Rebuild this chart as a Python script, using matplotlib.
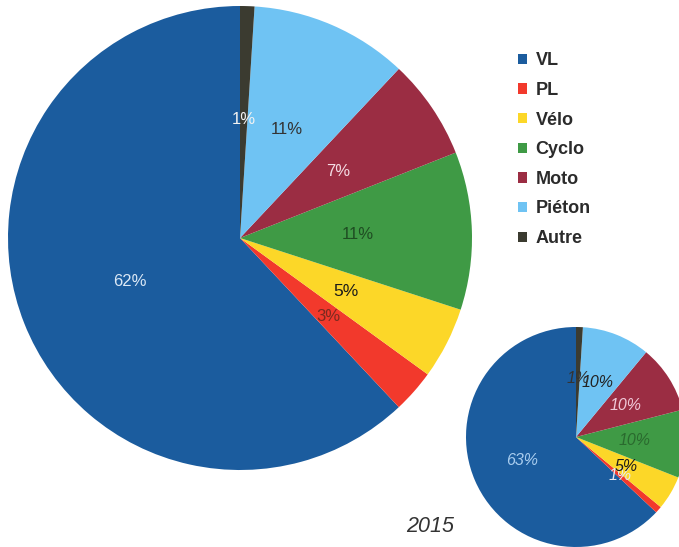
import matplotlib.pyplot as plt

plt.rcParams['font.family'] = ['Liberation Sans', 'DejaVu Sans']

# categories and shares (%)
categories = ['VL', 'PL', 'Vélo', 'Cyclo', 'Moto', 'Piéton', 'Autre']
shares_big = [62, 3, 5, 11, 7, 11, 1]
shares_2015 = [63, 1, 5, 10, 10, 10, 1]
year_label = '2015'

colors = ['#1b5c9e', '#f2392c', '#fcd728', '#3f9a45', '#9b2d43', '#6fc3f3', '#3b3b30']
big_text_colors = ['#dbe8f5', '#7a2a20', '#1a1a1a', '#1f4d22', '#f4dbe3', '#333333', '#f2f2f2']
small_text_colors = ['#a9cdef', '#e8e8f0', '#1a1a1a', '#2a6a2e', '#f0c8d8', '#222222', '#333333']

W, H = 679, 547
fig = plt.figure(figsize=(W / 100, H / 100), dpi=100)


def pie_axes(cx, cy, r):
    # pixel centre / radius (top-left origin) -> figure axes
    return fig.add_axes(((cx - r) / W, (H - cy - r) / H, 2 * r / W, 2 * r / H))


ax_big = pie_axes(240, 238, 232)
wedges, _, pcts = ax_big.pie(shares_big, colors=colors, startangle=90,
                             autopct='%.0f%%', pctdistance=0.51,
                             wedgeprops=dict(linewidth=0),
                             textprops=dict(fontsize=12))
for t, c in zip(pcts, big_text_colors):
    t.set_color(c)
pcts[2].set_fontsize(12.5)
ax_big.set_xlim(-1, 1)
ax_big.set_ylim(-1, 1)
ax_big.axis('off')

ax_small = pie_axes(576, 437, 110)
_, _, pcts2 = ax_small.pie(shares_2015, colors=colors, startangle=90,
                           autopct='%.0f%%', pctdistance=0.53,
                           wedgeprops=dict(linewidth=0),
                           textprops=dict(fontsize=11.5, style='italic'))
for t, c in zip(pcts2, small_text_colors):
    t.set_color(c)
ax_small.set_xlim(-1, 1)
ax_small.set_ylim(-1, 1)
ax_small.axis('off')

fig.text(430 / W, 1 - 526 / H, year_label, fontsize=15.5, style='italic',
         color='#333333', ha='center', va='center')

fig.legend(wedges, categories, loc='upper left', bbox_to_anchor=(502 / W, 1 - 36 / H),
           frameon=False, handlelength=0.5, handleheight=0.5, handletextpad=0.45,
           labelspacing=0.7, prop=dict(size=13, weight='bold'), labelcolor='#2b2b2b')

fig.savefig('out.png', dpi=100)
